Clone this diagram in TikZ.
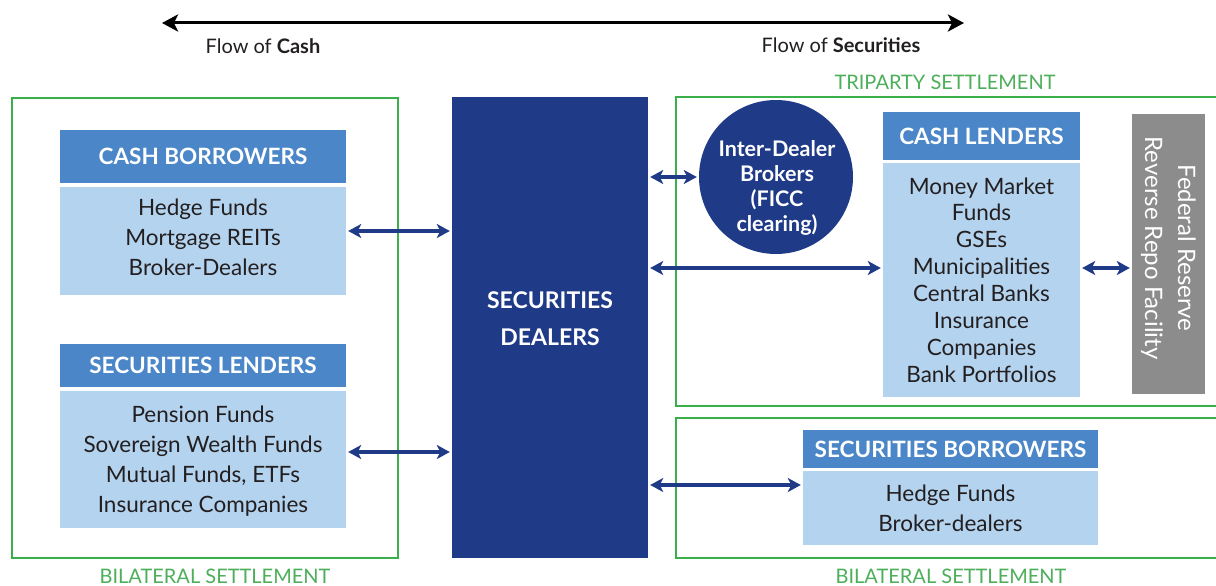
\documentclass[tikz,border=0pt]{standalone}
\usepackage{fontspec}
\setmainfont{Lato}
\usetikzlibrary{arrows.meta}
\definecolor{navy}{HTML}{1F3A86}
\definecolor{hdrblue}{HTML}{4A86C8}
\definecolor{bodyblue}{HTML}{B4D3EF}
\definecolor{frgreen}{HTML}{39B04A}
\definecolor{lblgreen}{HTML}{4DAF5A}
\definecolor{fedgray}{HTML}{8C8C8C}
\definecolor{txtdark}{HTML}{231F20}
\begin{document}
\begin{tikzpicture}[x=1pt,y=-1pt,
  hdr/.style={rectangle, fill=hdrblue, text=white, inner sep=0pt, align=center,
    font=\bfseries\fontsize{22.5}{26}\selectfont},
  bodybox/.style={rectangle, fill=bodyblue, text=txtdark, inner sep=0pt, align=center,
    font=\fontsize{22.5}{30}\selectfont},
  frame/.style={draw=frgreen, line width=2.7pt},
  grlabel/.style={text=lblgreen, font=\fontsize{20}{22}\selectfont},
  arr/.style={draw=navy, line width=3.3pt, {Stealth[length=13pt,width=14pt,inset=3.5pt]}-{Stealth[length=13pt,width=14pt,inset=3.5pt]}, shorten <=2pt, shorten >=2pt},
  topar/.style={draw=black, line width=3pt, {Stealth[length=16pt,width=17pt,inset=4pt]}-{Stealth[length=16pt,width=17pt,inset=4pt]}}
]
\useasboundingbox (0,0) rectangle (1216,586);
\fill[white] (0,0) rectangle (1216,586);

% top flow arrow
\coordinate (tl) at (162,23);
\coordinate (tr) at (964,23);
\draw[topar] (tl) -- (tr);
\node[font=\fontsize{20}{22}\selectfont, text=txtdark] (fc) at (263,46) {Flow of \textbf{Cash}};
\node[font=\fontsize{20}{22}\selectfont, text=txtdark] (fs) at (841,45) {Flow of \textbf{Securities}};

% green frames
\node[frame, rectangle, minimum width=386pt, minimum height=460pt, inner sep=0pt] (leftframe) at (205,328) {};
\draw[frame] (1222,97) -- (676,97) -- (676,406) -- (1222,406);
\draw[frame] (1222,418) -- (676,418) -- (676,558) -- (1222,558);
\node[grlabel] (tri) at (945,82) {TRIPARTY SETTLEMENT};
\node[grlabel] (bil1) at (215,576) {BILATERAL SETTLEMENT};
\node[grlabel] (bil2) at (951,576) {BILATERAL SETTLEMENT};

% securities dealers
\node[rectangle, fill=navy, inner sep=0pt, minimum width=196pt, minimum height=461pt] (dealers) at (550,327.5) {};
\node[text=white, align=center, font=\bfseries\fontsize{23}{37}\selectfont] (dealtxt) at (550,318.5) {SECURITIES\\DEALERS};

% cash borrowers
\node[hdr, minimum width=286pt, minimum height=53pt] (cbH) at (203,156.5) {CASH BORROWERS};
\node[bodybox, minimum width=286pt, minimum height=108pt] (cbB) at (203,241) {};
\node[bodybox, fill=none] (cbT) at (203,237) {Hedge Funds\\Mortgage REITs\\Broker-Dealers};

% securities lenders
\node[hdr, minimum width=286pt, minimum height=43pt] (slH) at (203,365.5) {SECURITIES LENDERS};
\node[bodybox, minimum width=286pt, minimum height=137pt] (slB) at (203,459.5) {};
\node[bodybox, fill=none] (slT) at (203,461) {Pension Funds\\Sovereign Wealth Funds\\Mutual Funds, ETFs\\Insurance Companies};

% inter-dealer brokers
\node[circle, fill=navy, inner sep=0pt, minimum size=154pt] (idb) at (776,177) {};
\node[text=white, align=center, font=\bfseries\fontsize{21.5}{25}\selectfont] (idbtxt) at (777,188) {Inter-Dealer\\Brokers\\(FICC\\clearing)};

% cash lenders
\node[hdr, minimum width=197pt, minimum height=48pt] (clH) at (981.5,136) {CASH LENDERS};
\node[bodybox, minimum width=197pt, minimum height=234pt, font=\fontsize{22.5}{26.9}\selectfont] (clB) at (981.5,280) {Money Market\\Funds\\GSEs\\Municipalities\\Central Banks\\Insurance\\Companies\\Bank Portfolios};

% federal reserve
\node[rectangle, fill=fedgray, inner sep=0pt, minimum width=73pt, minimum height=280pt] (fed) at (1168.5,253.5) {};
\node[text=white, rotate=-90, align=center, font=\fontsize{24}{33}\selectfont] (fedtxt) at (1168.5,248) {Federal Reserve\\Reverse Repo Facility};

% securities borrowers
\node[hdr, minimum width=295pt, minimum height=38pt] (sbH) at (950.5,449) {SECURITIES BORROWERS};
\node[bodybox, minimum width=295pt, minimum height=74pt] (sbB) at (950.5,508) {Hedge Funds\\Broker-dealers};

% connectors
\draw[arr] ([yshift=10pt]cbB.east) -- ([yshift=10pt]cbB.east -| dealers.west);
\draw[arr] ([yshift=7.5pt]slB.east) -- ([yshift=7.5pt]slB.east -| dealers.west);
\draw[arr] (idb.west -| dealers.east) -- (idb.west);
\draw[arr] ([yshift=12pt]clB.west -| dealers.east) -- ([yshift=12pt]clB.west);
\draw[arr] ([yshift=12pt]clB.east) -- ([yshift=12pt]clB.east -| fed.west);
\draw[arr] ([yshift=23pt]sbB.west -| dealers.east) -- ([yshift=23pt]sbB.west);
\end{tikzpicture}
\end{document}
